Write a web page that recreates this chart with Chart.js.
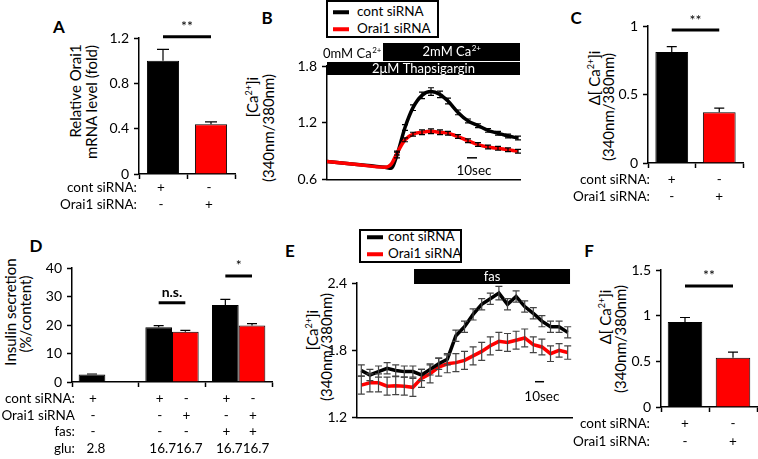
<!DOCTYPE html>
<html>
<head>
<meta charset="utf-8">
<script src="https://cdn.jsdelivr.net/npm/chart.js@4.4.1/dist/chart.umd.min.js"></script>
<style>
  body { margin: 0; background: #fff; }
  #fig { position: relative; width: 758px; height: 459px; overflow: hidden; font-family: Lato, sans-serif; color: #000; }
  #fig canvas { position: absolute; }
  .t { position: absolute; white-space: nowrap; line-height: 1; }
  .letter { font-weight: bold; font-size: 17px; transform: translate(-50%, -50%); }
  .yt { font-size: 15px; transform: translate(-50%, -50%) rotate(-90deg); }
  .yt sup { font-size: 9px; line-height: 0; }
  .leg { position: absolute; border: 2px solid #000; box-sizing: border-box; background: #fff; }
  .lline { position: absolute; height: 3.5px; transform: translateY(-50%); }
  .ltxt { font-size: 13.5px; transform: translateY(-50%); }
</style>
</head>
<body>
<div id="fig">
  <div class="t letter" style="left:59px;top:26px">A</div>
  <div class="t letter" style="left:267px;top:17px">B</div>
  <div class="t letter" style="left:576px;top:17px">C</div>
  <div class="t letter" style="left:36px;top:245px">D</div>
  <div class="t letter" style="left:290px;top:250px">E</div>
  <div class="t letter" style="left:589px;top:250px">F</div>

  <div class="t yt" style="left:75px;top:91px">Relative Orai1</div>
  <div class="t yt" style="left:91px;top:102px">mRNA level (fold)</div>
  <div class="t yt" style="left:252px;top:97px">[Ca<sup>2+</sup>]i</div>
  <div class="t yt" style="left:268px;top:128px">(340nm/380nm)</div>
  <div class="t yt" style="left:594px;top:78px">Δ[ Ca<sup>2+</sup>]i</div>
  <div class="t yt" style="left:608px;top:107px">(340nm/380nm)</div>
  <div class="t yt" style="left:10px;top:312px">Insulin secretion</div>
  <div class="t yt" style="left:25px;top:314px">(%/content)</div>
  <div class="t yt" style="left:312px;top:330px">[Ca<sup>2+</sup>]i</div>
  <div class="t yt" style="left:326px;top:347px">(340nm/380nm)</div>
  <div class="t yt" style="left:605px;top:317px">Δ[ Ca<sup>2+</sup>]i</div>
  <div class="t yt" style="left:620px;top:339px">(340nm/380nm)</div>

  <div class="leg" style="left:326px;top:0px;width:113px;height:38px"></div>
  <div class="lline" style="left:333px;top:12px;width:16px;background:#000"></div>
  <div class="lline" style="left:333px;top:29px;width:16px;background:#f00"></div>
  <div class="t ltxt" style="left:357px;top:12px">cont siRNA</div>
  <div class="t ltxt" style="left:357px;top:29px">Orai1 siRNA</div>

  <div class="leg" style="left:359px;top:229px;width:103px;height:34px"></div>
  <div class="lline" style="left:367px;top:237px;width:16px;background:#000"></div>
  <div class="lline" style="left:367px;top:254px;width:16px;background:#f00"></div>
  <div class="t ltxt" style="left:388px;top:237px">cont siRNA</div>
  <div class="t ltxt" style="left:388px;top:254px">Orai1 siRNA</div>
</div>

<script>
// ---- data ----
// A: Orai1 mRNA
const aLabels = ['cont', 'orai1'];
const aValues = [1.0, 0.44];
const aErr = [0.1, 0.02];
const aContRow = ['+', '-'];
const aOraiRow = ['-', '+'];

// B: thapsigargin trace
const bTime = [0, 30, 58, 64, 70, 78, 86, 95, 104, 113, 121, 131, 141, 151, 161, 171, 181, 191];
const bCont = [0.79, 0.76, 0.73, 0.72, 0.86, 1.15, 1.36, 1.49, 1.53, 1.50, 1.43, 1.31, 1.22, 1.17, 1.12, 1.09, 1.06, 1.04];
const bContErr = [0, 0, 0, 0, 0.03, 0.03, 0.03, 0.035, 0.04, 0.035, 0.03, 0.025, 0.02, 0.02, 0.02, 0.02, 0.02, 0.02];
const bOrai = [0.79, 0.76, 0.73, 0.76, 0.88, 1.02, 1.08, 1.10, 1.11, 1.10, 1.09, 1.055, 1.01, 0.97, 0.945, 0.93, 0.915, 0.90];
const bOraiErr = [0, 0, 0, 0, 0.02, 0.02, 0.02, 0.025, 0.025, 0.025, 0.02, 0.02, 0.02, 0.02, 0.02, 0.02, 0.02, 0.02];

// C: delta Ca
const cLabels = ['cont', 'orai1'];
const cValues = [0.81, 0.37];
const cErr = [0.04, 0.03];
const cContRow = ['+', '-'];
const cOraiRow = ['-', '+'];

// D: insulin secretion
const dGroups = ['2.8', '16.7', '16.7 fas'];
const dCont = [2.6, 19.2, 27.0];
const dContErr = [0.2, 0.6, 2.0];
const dOrai = [null, 17.6, 19.8];
const dOraiErr = [0, 0.5, 0.7];
const dContRow = ['+', '+', '-', '+', '-'];
const dOraiRow = ['-', '-', '+', '-', '+'];
const dFasRow = ['-', '-', '-', '+', '+'];
const dGluRow = ['2.8', '16.7', '16.7', '16.7', '16.7'];

// E: fas trace
const eIdx = [0, 1, 2, 3, 4, 5, 6, 7, 8, 9, 10, 11, 12, 13, 14, 15, 16, 17, 18, 19, 20, 21, 22, 23, 24];
const eCont = [1.62, 1.58, 1.61, 1.64, 1.62, 1.61, 1.61, 1.58, 1.63, 1.68, 1.72, 1.93, 2.01, 2.12, 2.21, 2.26, 2.31, 2.21, 2.28, 2.19, 2.13, 2.06, 2.01, 2.01, 1.96];
const eContErr = [0.05, 0.05, 0.05, 0.05, 0.05, 0.05, 0.05, 0.05, 0.05, 0.05, 0.05, 0.05, 0.05, 0.05, 0.05, 0.05, 0.06, 0.05, 0.05, 0.05, 0.05, 0.05, 0.05, 0.05, 0.05];
const eOrai = [1.49, 1.51, 1.51, 1.48, 1.485, 1.48, 1.47, 1.55, 1.59, 1.65, 1.68, 1.69, 1.71, 1.75, 1.79, 1.84, 1.88, 1.87, 1.89, 1.91, 1.85, 1.83, 1.77, 1.80, 1.78];
const eOraiErr = [0.08, 0.08, 0.08, 0.08, 0.08, 0.08, 0.08, 0.08, 0.08, 0.08, 0.08, 0.08, 0.08, 0.08, 0.08, 0.08, 0.08, 0.08, 0.08, 0.08, 0.07, 0.07, 0.07, 0.06, 0.06];

// F: delta Ca (fas)
const fLabels = ['cont', 'orai1'];
const fValues = [0.93, 0.54];
const fErr = [0.05, 0.06];
const fContRow = ['+', '-'];
const fOraiRow = ['-', '+'];

// ---- helpers ----
const FONT = 'Lato';
const RED = '#ff0000';
const ROWFONT = '13.5px ' + FONT;

function richText(ctx, x, y, text, sup, align) {
  ctx.font = '13px ' + FONT;
  const w1 = ctx.measureText(text).width;
  ctx.font = '8px ' + FONT;
  const w2 = sup ? ctx.measureText(sup).width : 0;
  let x0 = x;
  if (align === 'center') x0 = x - (w1 + w2) / 2;
  ctx.textAlign = 'left';
  ctx.textBaseline = 'middle';
  ctx.font = '13px ' + FONT;
  ctx.fillText(text, x0, y);
  if (sup) {
    ctx.font = '8px ' + FONT;
    ctx.fillText(sup, x0 + w1 + 0.5, y - 4);
  }
}

function barX(chart, ref) {
  return chart.getDatasetMeta(ref[0]).data[ref[1]].x;
}

const errorBars = {
  id: 'errorBars',
  afterDatasetsDraw(chart) {
    const ctx = chart.ctx, ys = chart.scales.y;
    chart.data.datasets.forEach((ds, di) => {
      if (!ds.errors) return;
      const meta = chart.getDatasetMeta(di);
      meta.data.forEach((el, i) => {
        const v = ds.data[i];
        const val = (v !== null && typeof v === 'object') ? v.y : v;
        const e = ds.errors[i];
        if (val == null || !e) return;
        const top = ys.getPixelForValue(val + e);
        const bot = ds.errBoth ? ys.getPixelForValue(val - e) : ys.getPixelForValue(val);
        const cw = ds.capW / 2;
        ctx.save();
        ctx.strokeStyle = ds.errColor || '#000';
        ctx.lineWidth = 1.2;
        ctx.beginPath();
        ctx.moveTo(el.x, bot); ctx.lineTo(el.x, top);
        ctx.moveTo(el.x - cw, top); ctx.lineTo(el.x + cw, top);
        if (ds.errBoth) { ctx.moveTo(el.x - cw, bot); ctx.lineTo(el.x + cw, bot); }
        ctx.stroke();
        ctx.restore();
      });
    });
  }
};

const annot = {
  id: 'annot',
  afterDraw(chart, args, o) {
    const ctx = chart.ctx, ca = chart.chartArea, xs = chart.scales.x, ys = chart.scales.y;
    ctx.save();
    ctx.fillStyle = '#000';
    ctx.strokeStyle = '#000';
    // significance lines
    (o.sig || []).forEach(s => {
      const x1 = barX(chart, s.a), x2 = barX(chart, s.b), yy = ys.getPixelForValue(s.y);
      ctx.lineWidth = 3;
      ctx.beginPath(); ctx.moveTo(x1, yy); ctx.lineTo(x2, yy); ctx.stroke();
      ctx.font = (s.bold ? 'bold ' : '') + '14px ' + FONT;
      ctx.textAlign = 'center'; ctx.textBaseline = 'bottom';
      ctx.fillText(s.text, (x1 + x2) / 2, yy - 3);
    });
    // condition rows under the bars
    (o.rows || []).forEach((r, k) => {
      const yy = ca.bottom + o.rowY[k];
      ctx.font = ROWFONT;
      ctx.textBaseline = 'middle';
      ctx.textAlign = 'right';
      ctx.fillText(r.label, ca.left + o.capX, yy);
      ctx.textAlign = 'center';
      r.marks.forEach((m, j) => ctx.fillText(m, barX(chart, o.bars[j]) + (r.dx || 0), yy));
    });
    // black bands (treatment bars)
    (o.bands || []).forEach(b => {
      const x1 = xs.getPixelForValue(b.from), x2 = xs.getPixelForValue(b.to);
      ctx.fillStyle = '#000';
      ctx.fillRect(x1, ca.top + b.top, x2 - x1, b.bottom - b.top);
      ctx.fillStyle = '#fff';
      richText(ctx, (x1 + x2) / 2, ca.top + (b.top + b.bottom) / 2, b.text, b.sup, 'center');
    });
    ctx.fillStyle = '#000';
    (o.texts || []).forEach(t => {
      richText(ctx, xs.getPixelForValue(t.x), ca.top + t.dy, t.text, t.sup, 'left');
    });
    // 10 sec scale bar
    if (o.scaleBar) {
      const sb = o.scaleBar;
      const yy = ys.getPixelForValue(sb.y);
      ctx.lineWidth = 1.5;
      ctx.beginPath();
      ctx.moveTo(xs.getPixelForValue(sb.from), yy);
      ctx.lineTo(xs.getPixelForValue(sb.to), yy);
      ctx.stroke();
      ctx.font = '13.5px ' + FONT;
      ctx.textAlign = 'center'; ctx.textBaseline = 'middle';
      ctx.fillText(sb.label, xs.getPixelForValue(sb.labelX), ys.getPixelForValue(sb.labelY));
    }
    ctx.restore();
  }
};

Chart.register(errorBars, annot);
Chart.defaults.font.family = FONT;
Chart.defaults.color = '#000';
Chart.defaults.animation = false;
Chart.defaults.plugins.legend.display = false;
Chart.defaults.plugins.tooltip.enabled = false;

function makeCanvas(area, pad) {
  const c = document.createElement('canvas');
  const w = area.r - area.l + pad.l + pad.r;
  const h = area.b - area.t + pad.t + pad.b;
  c.width = w; c.height = h;
  c.style.left = (area.l - pad.l) + 'px';
  c.style.top = (area.t - pad.t) + 'px';
  c.style.width = w + 'px';
  c.style.height = h + 'px';
  document.getElementById('fig').appendChild(c);
  return c;
}

function yAxis(min, max, step, width) {
  return {
    min: min, max: max,
    ticks: { stepSize: step, color: '#000', font: { family: FONT, size: 14 }, padding: 5,
      callback: v => String(+v.toFixed(2)) },
    grid: { drawOnChartArea: false, drawTicks: true, tickLength: 5, tickColor: '#000', tickWidth: 1.5 },
    border: { color: '#000', width: 1.5 },
    afterFit: s => { s.width = width; }
  };
}

function xBarAxis() {
  return {
    offset: true,
    ticks: { display: false },
    grid: { offset: true, drawOnChartArea: false, drawTicks: true, tickLength: 5, tickColor: '#000', tickWidth: 1.5 },
    border: { color: '#000', width: 1.5 },
    afterFit: s => { s.height = 6; }
  };
}

function xLineAxis(min, max) {
  return {
    type: 'linear', min: min, max: max,
    ticks: { display: false },
    grid: { display: false },
    border: { color: '#000', width: 1.5 },
    afterFit: s => { s.height = 1; }
  };
}

function barChart(area, pad, labels, datasets, yopt, annotOpts) {
  const c = makeCanvas(area, pad);
  return new Chart(c, {
    type: 'bar',
    data: { labels: labels, datasets: datasets },
    options: {
      responsive: false, devicePixelRatio: 1,
      layout: { padding: { left: 0, top: pad.t, right: pad.r, bottom: pad.b - 6 } },
      scales: { x: xBarAxis(), y: yAxis(yopt[0], yopt[1], yopt[2], pad.l) },
      plugins: { annot: annotOpts }
    }
  });
}

function lineChart(area, pad, datasets, xr, yopt, annotOpts) {
  const c = makeCanvas(area, pad);
  return new Chart(c, {
    type: 'line',
    data: { datasets: datasets },
    options: {
      responsive: false, devicePixelRatio: 1,
      layout: { padding: { left: 0, top: pad.t, right: pad.r, bottom: pad.b - 1 } },
      scales: { x: xLineAxis(xr[0], xr[1]), y: yAxis(yopt[0], yopt[1], yopt[2], pad.l) },
      plugins: { annot: annotOpts }
    }
  });
}

function pts(xs, ys) { return xs.map((x, i) => ({ x: x, y: ys[i] })); }

// ---- A ----
barChart({ l: 139, t: 38, r: 235, b: 174 }, { l: 100, t: 30, r: 6, b: 45 }, aLabels, [{
  data: aValues, errors: aErr, capW: 12,
  backgroundColor: ['#000', RED], borderColor: '#000', borderWidth: 1,
  barPercentage: 0.67, categoryPercentage: 1
}], [0, 1.2, 0.4], {
  sig: [{ a: [0, 0], b: [0, 1], y: 1.21, text: '**' }],
  bars: [[0, 0], [0, 1]], rowY: [14, 31], capX: -2,
  rows: [{ label: 'cont siRNA:', marks: aContRow, dx: -2 }, { label: 'Orai1 siRNA:', marks: aOraiRow, dx: -2 }]
});

// ---- B ----
lineChart({ l: 327, t: 66, r: 520, b: 181 }, { l: 40, t: 30, r: 6, b: 12 }, [
  { data: pts(bTime, bOrai), errors: bOraiErr, errBoth: true, capW: 6, borderColor: RED, borderWidth: 3.5,
    pointRadius: 0, cubicInterpolationMode: 'monotone', order: 0 },
  { data: pts(bTime, bCont), errors: bContErr, errBoth: true, capW: 6, borderColor: '#000', borderWidth: 3.5,
    pointRadius: 0, cubicInterpolationMode: 'monotone', order: 1 }
], [0, 193], [0.6, 1.8, 0.6], {
  bands: [
    { from: 56, to: 193, top: -23, bottom: -5, text: '2mM Ca', sup: '2+' },
    { from: 0, to: 193, top: -4, bottom: 9, text: '2μM Thapsigargin' }
  ],
  texts: [{ x: -4, dy: -12, text: '0mM Ca', sup: '2+' }],
  scaleBar: { from: 140, to: 150, y: 0.83, label: '10sec', labelX: 147, labelY: 0.69 }
});

// ---- C ----
barChart({ l: 648, t: 26, r: 743, b: 163 }, { l: 110, t: 20, r: 6, b: 45 }, cLabels, [{
  data: cValues, errors: cErr, capW: 10,
  backgroundColor: ['#000', RED], borderColor: '#000', borderWidth: 1,
  barPercentage: 0.69, categoryPercentage: 1
}], [0, 1, 0.5], {
  sig: [{ a: [0, 0], b: [0, 1], y: 0.97, text: '**' }],
  bars: [[0, 0], [0, 1]], rowY: [17, 34], capX: 2,
  rows: [{ label: 'cont siRNA:', marks: cContRow }, { label: 'Orai1 siRNA:', marks: cOraiRow }]
});

// ---- D ----
barChart({ l: 72, t: 268, r: 272, b: 382 }, { l: 72, t: 20, r: 6, b: 75 }, dGroups, [
  { data: dCont, errors: dContErr, capW: 10, backgroundColor: '#000', borderColor: '#000', borderWidth: 1,
    barPercentage: 1, categoryPercentage: 0.8 },
  { data: dOrai, errors: dOraiErr, capW: 10, backgroundColor: RED, borderColor: '#000', borderWidth: 1,
    barPercentage: 1, categoryPercentage: 0.8 }
], [0, 40, 10], {
  sig: [
    { a: [0, 1], b: [1, 1], y: 27.8, text: 'n.s.', bold: true },
    { a: [0, 2], b: [1, 2], y: 37.2, text: '*' }
  ],
  bars: [[0, 0], [0, 1], [1, 1], [0, 2], [1, 2]], rowY: [17, 34, 50, 67], capX: 3,
  rows: [
    { label: 'cont siRNA:', marks: dContRow, dx: 1 },
    { label: 'Orai1 siRNA', marks: dOraiRow, dx: 1 },
    { label: 'fas:', marks: dFasRow, dx: 1 },
    { label: 'glu:', marks: dGluRow, dx: 4 }
  ]
});

// ---- E ----
lineChart({ l: 357, t: 283, r: 572, b: 419 }, { l: 40, t: 20, r: 6, b: 12 }, [
  { data: pts(eIdx, eCont), errors: eContErr, errBoth: true, capW: 7, errColor: '#444', borderColor: '#000',
    borderWidth: 3.5, pointRadius: 0, tension: 0 },
  { data: pts(eIdx, eOrai), errors: eOraiErr, errBoth: true, capW: 7, errColor: '#444', borderColor: RED,
    borderWidth: 3.5, pointRadius: 0, tension: 0 }
], [-0.5, 24.5], [1.2, 2.4, 0.6], {
  bands: [{ from: 6.13, to: 24.27, top: -14, bottom: 1, text: 'fas' }],
  scaleBar: { from: 20.2, to: 21.25, y: 1.52, label: '10sec', labelX: 21.0, labelY: 1.39 }
});

// ---- F ----
barChart({ l: 661, t: 270, r: 757, b: 407 }, { l: 110, t: 20, r: 1, b: 45 }, fLabels, [{
  data: fValues, errors: fErr, capW: 10,
  backgroundColor: ['#000', RED], borderColor: '#000', borderWidth: 1,
  barPercentage: 0.72, categoryPercentage: 1
}], [0, 1.5, 0.5], {
  sig: [{ a: [0, 0], b: [0, 1], y: 1.325, text: '**' }],
  bars: [[0, 0], [0, 1]], rowY: [17, 35], capX: -11,
  rows: [{ label: 'cont siRNA:', marks: fContRow }, { label: 'Orai1 siRNA:', marks: fOraiRow }]
});
</script>
</body>
</html>
